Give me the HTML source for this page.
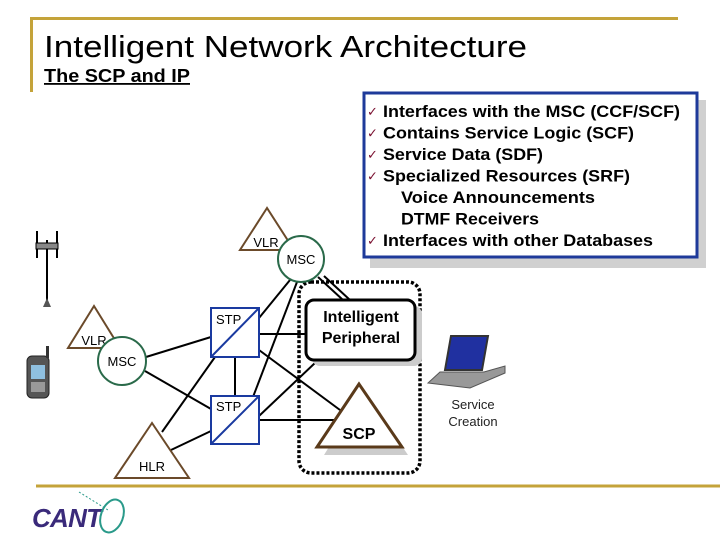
<!DOCTYPE html>
<html><head><meta charset="utf-8"><style>
body{margin:0;background:#fff;width:720px;height:540px;overflow:hidden}
svg{display:block}
text{font-family:"Liberation Sans",Arial,sans-serif}
</style></head><body>
<svg width="720" height="540" viewBox="0 0 720 540" xmlns="http://www.w3.org/2000/svg">
<!-- header frame -->
<line x1="30" y1="18.5" x2="678" y2="18.5" stroke="#c4a33a" stroke-width="3"/>
<line x1="31.5" y1="17" x2="31.5" y2="92" stroke="#c4a33a" stroke-width="3"/>
<text x="44" y="57" font-size="31" fill="#000" textLength="483" lengthAdjust="spacingAndGlyphs">Intelligent Network Architecture</text>
<text x="44" y="82" font-size="18" font-weight="bold" fill="#000" text-decoration="underline" textLength="146" lengthAdjust="spacingAndGlyphs">The SCP and IP</text>
<line x1="36" y1="486" x2="720" y2="486" stroke="#c4a33a" stroke-width="3"/>

<!-- info box -->
<rect x="370" y="100" width="336" height="168" fill="#d0d0d0"/>
<rect x="364" y="93" width="333" height="164" fill="#fff" stroke="#1e3a9a" stroke-width="3"/>
<g font-size="16.5" font-weight="bold" fill="#000">
<text x="383" y="117" textLength="297" lengthAdjust="spacingAndGlyphs">Interfaces with the MSC (CCF/SCF)</text>
<text x="383" y="138.5" textLength="251" lengthAdjust="spacingAndGlyphs">Contains Service Logic (SCF)</text>
<text x="383" y="160" textLength="160" lengthAdjust="spacingAndGlyphs">Service Data (SDF)</text>
<text x="383" y="181.5" textLength="247" lengthAdjust="spacingAndGlyphs">Specialized Resources (SRF)</text>
<text x="401" y="203" textLength="194" lengthAdjust="spacingAndGlyphs">Voice Announcements</text>
<text x="401" y="224.5" textLength="138" lengthAdjust="spacingAndGlyphs">DTMF Receivers</text>
<text x="383" y="246" textLength="270" lengthAdjust="spacingAndGlyphs">Interfaces with other Databases</text>
</g>
<g fill="#7a1030" font-size="13">
<text x="367" y="116">✓</text><text x="367" y="137.5">✓</text><text x="367" y="159">✓</text><text x="367" y="180.5">✓</text><text x="367" y="245">✓</text>
</g>

<!-- connector lines -->
<g stroke="#000" stroke-width="2" fill="none">
<line x1="290" y1="280" x2="259" y2="318"/>
<line x1="297" y1="282" x2="253" y2="397"/>
<line x1="318" y1="277" x2="343" y2="300"/>
<line x1="324" y1="276" x2="350" y2="300"/>
<line x1="146" y1="357" x2="211" y2="337"/>
<line x1="145" y1="371" x2="211" y2="409"/>
<line x1="259" y1="334" x2="306" y2="334"/>
<line x1="259" y1="350" x2="340" y2="410"/>
<line x1="235" y1="357" x2="235" y2="396"/>
<line x1="259" y1="416" x2="316" y2="362"/>
<line x1="259" y1="420" x2="335" y2="420"/>
<line x1="162" y1="432" x2="215" y2="357"/>
<line x1="171" y1="450" x2="211" y2="431"/>
</g>

<!-- dotted group -->
<rect x="299" y="282" width="121" height="191" rx="12" fill="none" stroke="#000" stroke-width="3.5" stroke-dasharray="3 2"/>

<!-- IP -->
<rect x="312" y="306" width="110" height="60" rx="8" fill="#ccc"/>
<rect x="306" y="300" width="109" height="60" rx="8" fill="#fff" stroke="#000" stroke-width="3"/>
<text x="361" y="322" font-size="16" font-weight="bold" text-anchor="middle">Intelligent</text>
<text x="361" y="343" font-size="16" font-weight="bold" text-anchor="middle">Peripheral</text>

<!-- SCP -->
<polygon points="364,390 324,455 408,455" fill="#ccc"/>
<polygon points="359,384 317,447 402,447" fill="#fff" stroke="#5a3a1a" stroke-width="3"/>
<text x="359" y="439" font-size="16" font-weight="bold" text-anchor="middle">SCP</text>

<!-- VLR triangles -->
<polygon points="267,208 240,250 294,250" fill="#fff" stroke="#6b4a2a" stroke-width="2"/>
<text x="266" y="247" font-size="13" text-anchor="middle">VLR</text>
<polygon points="94,306 68,348 120,348" fill="#fff" stroke="#6b4a2a" stroke-width="2"/>
<text x="94" y="345" font-size="13" text-anchor="middle">VLR</text>
<polygon points="152,423 115,478 189,478" fill="#fff" stroke="#6b4a2a" stroke-width="2"/>
<text x="152" y="471" font-size="13" text-anchor="middle">HLR</text>

<!-- MSC circles -->
<circle cx="301" cy="259" r="23" fill="#fff" stroke="#2a6a4a" stroke-width="2"/>
<text x="301" y="264" font-size="13" text-anchor="middle">MSC</text>
<circle cx="122" cy="361" r="24" fill="#fff" stroke="#2a6a4a" stroke-width="2"/>
<text x="122" y="366" font-size="13" text-anchor="middle">MSC</text>

<!-- STPs -->
<rect x="211" y="308" width="48" height="49" fill="#fff" stroke="#1a3aa0" stroke-width="2"/>
<line x1="211" y1="357" x2="259" y2="308" stroke="#1a3aa0" stroke-width="2"/>
<text x="216" y="324" font-size="13">STP</text>
<rect x="211" y="396" width="48" height="48" fill="#fff" stroke="#1a3aa0" stroke-width="2"/>
<line x1="211" y1="444" x2="259" y2="396" stroke="#1a3aa0" stroke-width="2"/>
<text x="216" y="411" font-size="13">STP</text>

<!-- tower -->
<g stroke="#000" stroke-width="2">
<line x1="47" y1="240" x2="47" y2="300"/>
<line x1="37" y1="231" x2="37" y2="258"/>
<line x1="57" y1="231" x2="57" y2="258"/>
</g>
<rect x="36" y="243" width="22" height="6" fill="#888" stroke="#000"/>
<polygon points="47,298 43,307 51,307" fill="#555"/>

<!-- phone -->
<rect x="27" y="356" width="22" height="42" rx="5" fill="#555" stroke="#222"/>
<rect x="31" y="365" width="14" height="14" fill="#8fc0e0"/>
<rect x="46" y="346" width="3" height="12" fill="#333"/>
<rect x="31" y="382" width="14" height="10" fill="#999"/>

<!-- laptop -->
<polygon points="451,336 488,336 482,370 445,370" fill="#2030a0" stroke="#333" stroke-width="2"/>
<polygon points="440,372 484,372 505,366 505,373 470,388 428,383" fill="#999" stroke="#555"/>
<text x="473" y="409" font-size="13" text-anchor="middle" fill="#222">Service</text>
<text x="473" y="426" font-size="13" text-anchor="middle" fill="#222">Creation</text>

<!-- logo -->
<text x="32" y="527" font-size="26" font-weight="bold" font-style="italic" fill="#3a2a7a" textLength="70">CANT</text>
<ellipse cx="112" cy="516" rx="11" ry="17" fill="none" stroke="#2a9a8a" stroke-width="2" transform="rotate(20 112 516)"/>
<line x1="79" y1="492" x2="108" y2="510" stroke="#2a9a8a" stroke-dasharray="2 2"/>
</svg>
</body></html>
